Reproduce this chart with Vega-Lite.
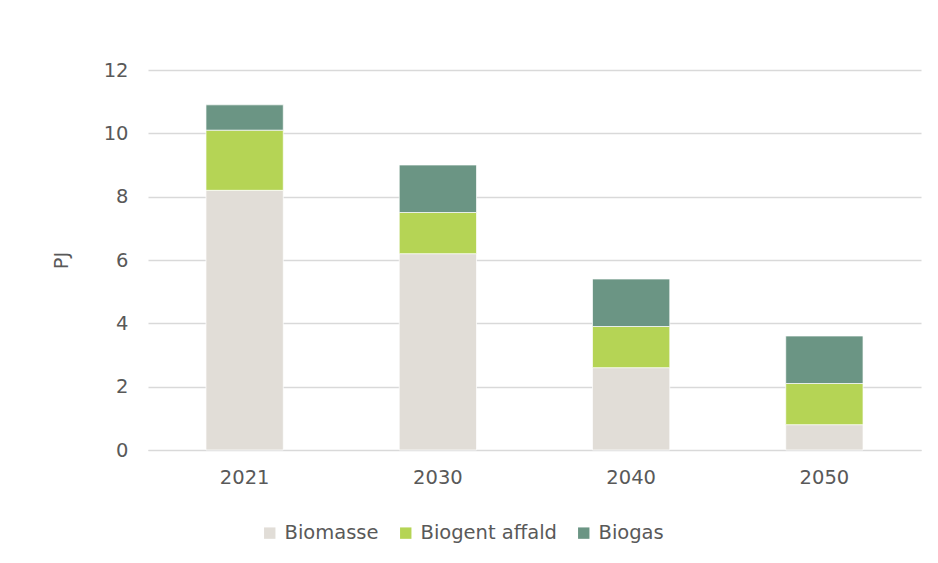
{
  "$schema": "https://vega.github.io/schema/vega-lite/v6.json",
  "autosize": "none",
  "width": 773,
  "height": 380,
  "padding": {"left": 148, "top": 70, "right": 17, "bottom": 113},
  "background": "white",
  "config": {
    "font": "DejaVu Sans",
    "view": {"stroke": null},
    "axis": {"labelColor": "#595959", "titleColor": "#595959", "labelFontSize": 19.5, "titleFontSize": 19.5, "titleFontWeight": "normal"},
    "legend": {"labelColor": "#595959", "labelFontSize": 19.5}
  },
  "data": {
    "values": [
      {"year": "2021", "type": "Biomasse", "order": 1, "value": 8.2},
      {"year": "2021", "type": "Biogent affald", "order": 2, "value": 1.9},
      {"year": "2021", "type": "Biogas", "order": 3, "value": 0.8},
      {"year": "2030", "type": "Biomasse", "order": 1, "value": 6.2},
      {"year": "2030", "type": "Biogent affald", "order": 2, "value": 1.3},
      {"year": "2030", "type": "Biogas", "order": 3, "value": 1.5},
      {"year": "2040", "type": "Biomasse", "order": 1, "value": 2.6},
      {"year": "2040", "type": "Biogent affald", "order": 2, "value": 1.3},
      {"year": "2040", "type": "Biogas", "order": 3, "value": 1.5},
      {"year": "2050", "type": "Biomasse", "order": 1, "value": 0.8},
      {"year": "2050", "type": "Biogent affald", "order": 2, "value": 1.3},
      {"year": "2050", "type": "Biogas", "order": 3, "value": 1.5}
    ]
  },
  "mark": {"type": "bar", "stroke": "white", "strokeWidth": 0.7},
  "encoding": {
    "x": {
      "field": "year", "type": "ordinal",
      "scale": {"paddingInner": 0.6, "paddingOuter": 0.3},
      "axis": {"title": null, "labelAngle": 0, "ticks": false, "domainColor": "#d9d9d9", "labelPadding": 18}
    },
    "y": {
      "field": "value", "type": "quantitative", "stack": "zero",
      "scale": {"domain": [0, 12]},
      "axis": {"title": "PJ", "values": [0, 2, 4, 6, 8, 10, 12], "ticks": false, "domain": false, "gridColor": "#d9d9d9", "gridWidth": 1.3, "labelPadding": 20, "titlePadding": 32}
    },
    "color": {
      "field": "type", "type": "nominal",
      "scale": {"domain": ["Biomasse", "Biogent affald", "Biogas"], "range": ["#e1ddd7", "#b5d455", "#6b9584"]},
      "legend": {"title": null, "orient": "none", "direction": "horizontal", "legendX": 112, "legendY": 453, "symbolType": "square", "symbolSize": 130, "symbolStrokeWidth": 0, "columnPadding": 17, "labelOffset": 5}
    },
    "order": {"field": "order", "type": "quantitative"}
  }
}
